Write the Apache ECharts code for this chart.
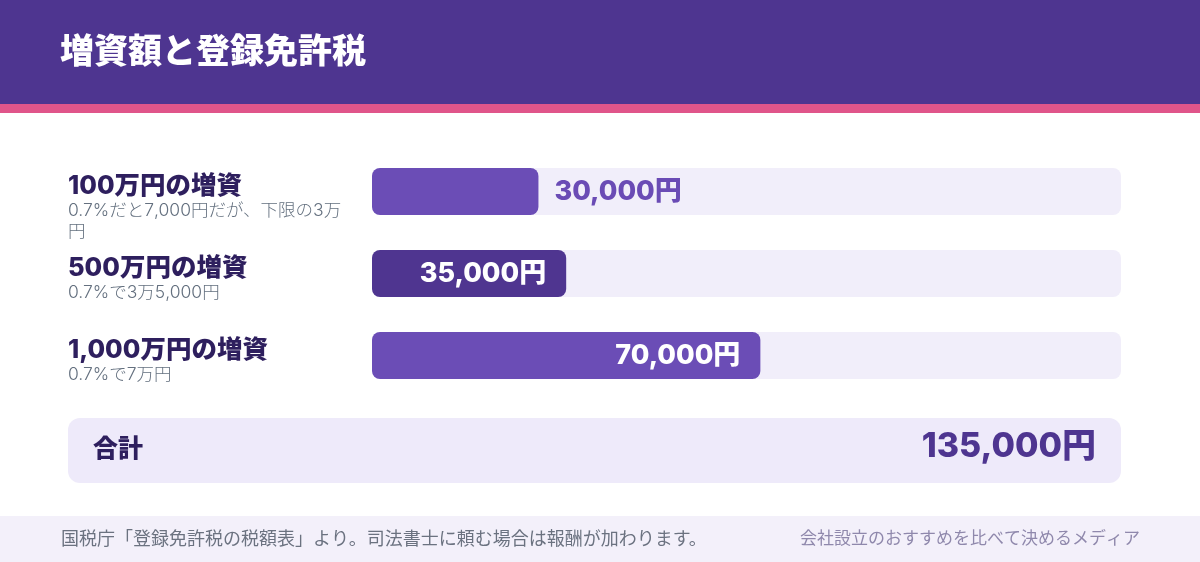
<!DOCTYPE html>
<html>
<head>
<meta charset="utf-8">
<script src="https://cdn.jsdelivr.net/npm/echarts@6/dist/echarts.min.js"></script>
<style>
html,body{margin:0;padding:0;background:#fff;}
#chart{width:1200px;height:562px;}
</style>
</head>
<body>
<div id="chart"></div>
<script>
const titleText = '増資額と登録免許税';
const categories = ['100万円の増資', '500万円の増資', '1,000万円の増資'];
const notes = ['0.7%だと7,000円だが、下限の3万円', '0.7%で3万5,000円', '0.7%で7万円'];
const taxValues = [30000, 35000, 70000];
const totalLabel = '合計';
const sourceNote = '国税庁「登録免許税の税額表」より。司法書士に頼む場合は報酬が加わります。';
const brandNote = '会社設立のおすすめを比べて決めるメディア';

const total = taxValues.reduce((a, b) => a + b, 0);
const fmt = v => v.toLocaleString('en-US') + '円';

const JP = "'Noto Sans CJK JP', sans-serif";
const NUM = "Inter, 'Noto Sans CJK JP', sans-serif";
const NOTE_SIZE = 17.5;
const NOTE_WIDTH = 280;

// wrap a note at the left column width, measured in its own font
const measureCtx = document.createElement('canvas').getContext('2d');
function wrapNote(text) {
  measureCtx.font = '300 ' + NOTE_SIZE + "px Inter, 'Noto Sans CJK JP', sans-serif";
  const lines = [];
  let cur = '';
  for (const ch of text) {
    if (cur && measureCtx.measureText(cur + ch).width > NOTE_WIDTH) {
      lines.push(cur);
      cur = ch;
    } else {
      cur += ch;
    }
  }
  if (cur) lines.push(cur);
  return lines;
}

const chart = echarts.init(document.getElementById('chart'), null, {renderer: 'canvas'});

chart.setOption({
  backgroundColor: '#ffffff',
  animation: false,
  grid: {left: 372, right: 79, top: 150.5, height: 246},
  xAxis: {type: 'value', min: 0, max: total, show: false},
  yAxis: {type: 'category', data: categories, inverse: true, show: false},
  graphic: [
    {type: 'rect', shape: {x: 0, y: 0, width: 1200, height: 104}, style: {fill: '#4E3590'}, silent: true},
    {type: 'rect', shape: {x: 0, y: 104, width: 1200, height: 9}, style: {fill: '#E0558A'}, silent: true},
    {type: 'text', x: 60, y: 50, style: {text: titleText, fill: '#ffffff', font: "900 34px 'Noto Sans CJK JP', sans-serif", verticalAlign: 'middle'}},
    {type: 'rect', shape: {x: 68, y: 418, width: 1053, height: 65, r: 12}, style: {fill: '#EEEAFA'}, silent: true},
    {type: 'text', x: 93, y: 447, style: {text: totalLabel, fill: '#2E1F5E', font: "900 25px 'Noto Sans CJK JP', sans-serif", verticalAlign: 'middle'}},
    {type: 'text', x: 1096, y: 447, style: {text: fmt(total), fill: '#4E3590', font: "800 34px Inter, 'Noto Sans CJK JP', sans-serif", align: 'right', verticalAlign: 'middle'}},
    {type: 'rect', shape: {x: 0, y: 516, width: 1200, height: 46}, style: {fill: '#F3F0FA'}, silent: true},
    {type: 'text', x: 61, y: 538, style: {text: sourceNote, fill: '#6B7280', font: "18px 'Noto Sans CJK JP', sans-serif", verticalAlign: 'middle'}},
    {type: 'text', x: 1140, y: 538, style: {text: brandNote, fill: '#8F88AC', font: "17px 'Noto Sans CJK JP', sans-serif", align: 'right', verticalAlign: 'middle'}}
  ],
  series: [
    {
      type: 'bar',
      silent: true,
      barWidth: 47,
      data: categories.map(() => total),
      itemStyle: {color: '#F1EEFA', borderRadius: 8},
      label: {
        show: true,
        position: [-304, 4],
        align: 'left',
        verticalAlign: 'top',
        formatter: p => '{t|' + categories[p.dataIndex] + '}\n' +
          wrapNote(notes[p.dataIndex]).map(l => '{s|' + l + '}').join('\n'),
        rich: {
          t: {fontFamily: NUM, fontWeight: 800, fontSize: 25.5, lineHeight: 28, color: '#2E1F5E'},
          s: {fontFamily: NUM, fontWeight: 300, fontSize: NOTE_SIZE, lineHeight: 21, color: '#64707F'}
        }
      },
      z: 1
    },
    {
      type: 'bar',
      silent: true,
      barWidth: 47,
      barGap: '-100%',
      data: taxValues.map((v, i) => {
        const outside = v / total < 0.25;
        return {
          value: v,
          itemStyle: {color: i === 1 ? '#4F3590' : '#6B4DB6'},
          label: outside
            ? {position: 'right', distance: 16, color: '#6A4BB5'}
            : {position: 'insideRight', distance: 20, color: '#ffffff'}
        };
      }),
      itemStyle: {borderRadius: 8},
      label: {
        show: true,
        fontFamily: NUM,
        fontWeight: 800,
        fontSize: 27,
        formatter: p => fmt(p.value)
      },
      z: 2
    }
  ]
});
</script>
</body>
</html>
